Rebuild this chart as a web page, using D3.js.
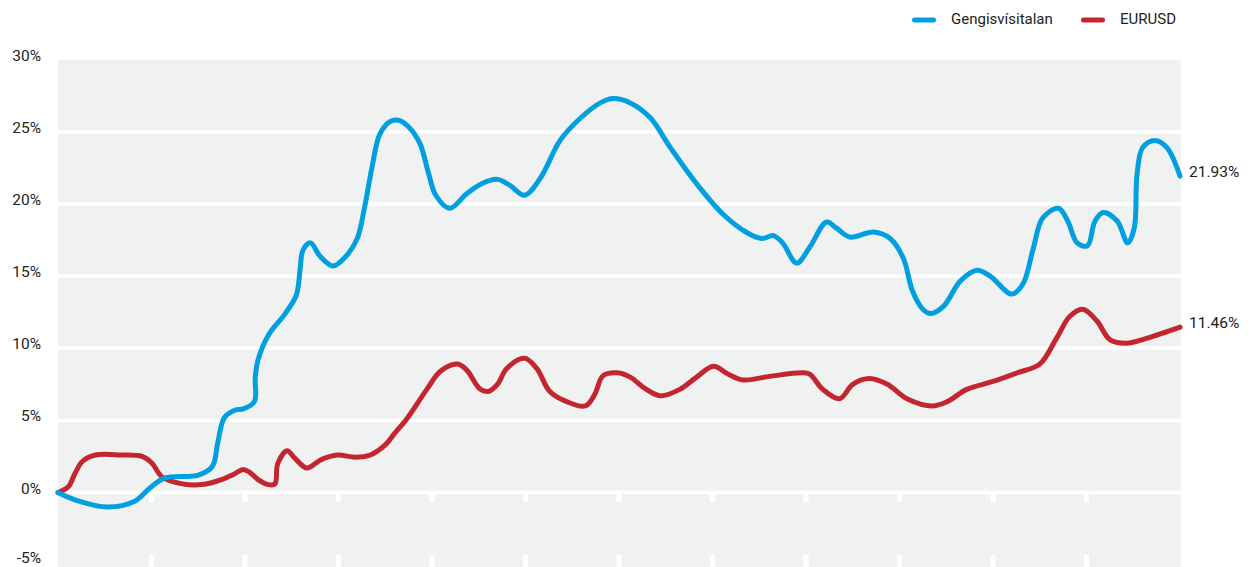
<!DOCTYPE html>
<html>
<head>
<meta charset="utf-8">
<script src="https://cdn.jsdelivr.net/npm/d3@7"></script>
<style>
  html, body { margin: 0; padding: 0; background: #ffffff; }
  svg { display: block; }
  text { font-family: Roboto, "Liberation Sans", sans-serif; fill: #222; }
</style>
</head>
<body>
<svg id="chart" width="1254" height="567"></svg>
<script>
// ---- Data (x = months since start, y = % change) ----
const seriesNames = ["Gengisvísitalan", "EURUSD"];
const seriesColors = ["#019fe0", "#c3262e"];
const endLabels = ["21.93%", "11.46%"];

const gengisMonths = [0,0.18,0.53,0.82,0.98,1.14,1.50,1.65,1.71,1.78,1.89,1.98,2.10,2.11,2.14,2.25,2.43,2.55,2.59,2.62,2.70,2.80,2.94,3.07,3.20,3.28,3.36,3.44,3.55,3.64,3.74,3.87,3.96,4.04,4.19,4.37,4.53,4.70,4.83,4.99,5.16,5.37,5.58,5.80,5.94,6.12,6.33,6.55,6.83,7.11,7.37,7.53,7.65,7.75,7.90,8.04,8.22,8.33,8.47,8.72,8.90,9.04,9.14,9.25,9.33,9.47,9.65,9.83,9.97,10.20,10.32,10.43,10.53,10.70,10.80,10.90,11.01,11.09,11.18,11.33,11.44,11.51,11.54,11.60,11.73,11.86,12.00];
const gengisValues = [0,-0.5,-1.0,-0.6,0.3,1.0,1.2,1.8,3.5,5.2,5.7,5.8,6.3,8.0,9.2,10.9,12.4,13.7,15.5,16.8,17.3,16.4,15.7,16.3,17.6,19.8,22.6,24.8,25.7,25.8,25.4,24.2,22.2,20.6,19.7,20.7,21.4,21.7,21.3,20.6,21.8,24.4,25.9,27.0,27.3,27.0,26.0,23.9,21.4,19.3,18.0,17.6,17.8,17.3,15.9,17.0,18.75,18.3,17.7,18.05,17.6,16.25,13.95,12.7,12.4,12.9,14.65,15.4,15.0,13.75,14.45,16.9,19.0,19.7,18.8,17.3,17.1,18.8,19.4,18.8,17.3,18.3,22.0,23.9,24.4,23.9,21.93];

const eurusdMonths = [0,0.11,0.18,0.26,0.40,0.68,0.90,1.01,1.11,1.33,1.54,1.75,1.89,1.98,2.05,2.14,2.25,2.32,2.35,2.45,2.53,2.66,2.82,2.99,3.18,3.34,3.50,3.60,3.73,3.95,4.09,4.27,4.37,4.51,4.60,4.70,4.80,4.99,5.12,5.26,5.44,5.64,5.74,5.83,5.98,6.12,6.28,6.44,6.65,6.83,7.01,7.17,7.33,7.61,7.96,8.04,8.18,8.36,8.50,8.68,8.87,9.08,9.35,9.51,9.72,10.00,10.26,10.50,10.68,10.82,10.96,11.11,11.25,11.43,11.65,12.00];
const eurusdValues = [0,0.4,1.3,2.15,2.6,2.6,2.5,2.0,1.1,0.6,0.55,0.9,1.3,1.6,1.4,0.9,0.55,0.6,2.0,2.9,2.4,1.7,2.3,2.6,2.45,2.6,3.3,4.1,5.1,7.2,8.4,8.9,8.5,7.2,7.0,7.5,8.6,9.3,8.6,7.0,6.3,6.0,6.8,8.1,8.3,8.0,7.2,6.7,7.15,8.0,8.75,8.2,7.8,8.05,8.3,8.2,7.15,6.5,7.5,7.9,7.5,6.5,6.0,6.3,7.15,7.7,8.3,8.9,10.7,12.2,12.7,11.9,10.6,10.35,10.7,11.46];

const yTicks = [-5, 0, 5, 10, 15, 20, 25, 30];
const gridValues = [0, 5, 10, 15, 20, 25];
const xTicks = [1,2,3,4,5,6,7,8,9,10,11];

// ---- Layout ----
const plot = { left: 58, right: 1181, top: 59.6, bottom: 567 };
const svg = d3.select("#chart");

const x = d3.scaleLinear().domain([0, 12]).range([58, 1180]);
const y = d3.scaleLinear().domain([-5, 30]).range([564.7, 59.6]);

// background
svg.append("rect")
  .attr("x", plot.left).attr("y", plot.top)
  .attr("width", plot.right - plot.left).attr("height", plot.bottom - plot.top)
  .attr("fill", "#f0f2f1");

// gridlines
svg.append("g").selectAll("line").data(gridValues).join("line")
  .attr("x1", plot.left).attr("x2", plot.right)
  .attr("y1", d => y(d)).attr("y2", d => y(d))
  .attr("stroke", "#ffffff").attr("stroke-width", 3.5);

// x ticks (white) below zero line and at bottom
const tg = svg.append("g");
tg.selectAll("rect.t0").data(xTicks).join("rect").attr("class", "t0")
  .attr("x", d => x(d) - 2.5).attr("y", y(0))
  .attr("width", 5).attr("height", 9.5)
  .attr("fill", "#ffffff");
tg.selectAll("rect.tb").data(xTicks).join("rect").attr("class", "tb")
  .attr("x", d => x(d) - 2.5).attr("y", 555)
  .attr("width", 5).attr("height", 12)
  .attr("fill", "#ffffff");

// y labels
svg.append("g").selectAll("text").data(yTicks).join("text")
  .attr("x", 41).attr("y", d => Math.min(y(d) - 3, 559))
  .attr("text-anchor", "end").attr("dominant-baseline", "middle")
  .attr("font-size", "15.5px")
  .text(d => d + "%");

// lines
const line = d3.line().x(d => x(d[0])).y(d => y(d[1])).curve(d3.curveCatmullRom.alpha(0.5));
const seriesData = [
  d3.zip(gengisMonths, gengisValues),
  d3.zip(eurusdMonths, eurusdValues)
];
svg.append("g").selectAll("path").data([1, 0]).join("path")
  .attr("d", i => line(seriesData[i]))
  .attr("fill", "none")
  .attr("stroke", i => seriesColors[i])
  .attr("stroke-width", 5)
  .attr("stroke-linecap", "round")
  .attr("stroke-linejoin", "round");

// end labels
svg.append("g").selectAll("text").data([0, 1]).join("text")
  .attr("x", x(12) + 9)
  .attr("y", i => y(seriesData[i][seriesData[i].length - 1][1]) - 3)
  .attr("dominant-baseline", "middle")
  .attr("font-size", "15.5px")
  .text(i => endLabels[i]);

// legend
const legendX = [912, 1081];
const lg = svg.append("g").selectAll("g").data([0, 1]).join("g")
  .attr("transform", i => `translate(${legendX[i]},20)`);
lg.append("line")
  .attr("x1", 2.5).attr("x2", 21.5).attr("y1", 0).attr("y2", 0)
  .attr("stroke", i => seriesColors[i]).attr("stroke-width", 5)
  .attr("stroke-linecap", "round");
lg.append("text")
  .attr("x", 39).attr("y", 0)
  .attr("dominant-baseline", "middle")
  .attr("font-size", "15px")
  .text(i => seriesNames[i]);
</script>
</body>
</html>
